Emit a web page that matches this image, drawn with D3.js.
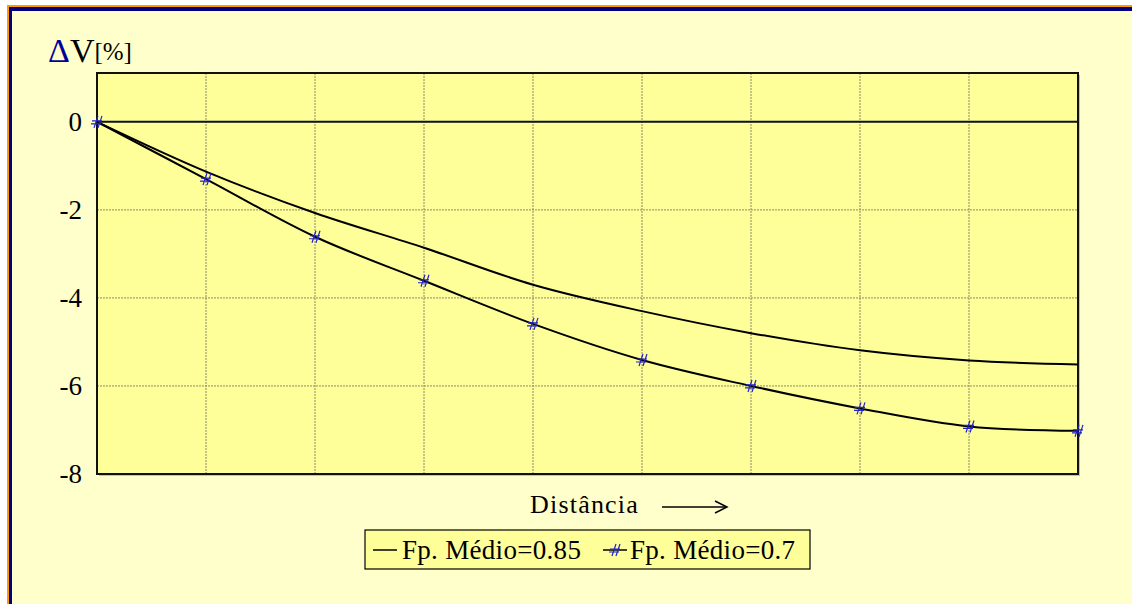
<!DOCTYPE html>
<html>
<head>
<meta charset="utf-8">
<script src="https://cdn.jsdelivr.net/npm/d3@7"></script>
<style>
  html, body { margin: 0; padding: 0; background: #fff; }
  svg { display: block; }
</style>
</head>
<body>
<svg id="chart"></svg>
<script>
// distance steps (x axis has no labels)
const distances = [0, 1, 2, 3, 4, 5, 6, 7, 8, 9];
const seriesNames = ['Fp. Médio=0.85', 'Fp. Médio=0.7'];
const dv085 = [0, -1.13, -2.07, -2.86, -3.70, -4.30, -4.80, -5.19, -5.42, -5.51];
const dv070 = [0, -1.30, -2.61, -3.61, -4.59, -5.41, -6.00, -6.51, -6.92, -7.02];
const yTicks = [0, -2, -4, -6, -8];

const W = 1132, H = 604;
const margin = { top: 73, right: 54, bottom: 130, left: 97 };
const serif = '"Liberation Serif", "Times New Roman", serif';

const svg = d3.select('#chart')
  .attr('width', W)
  .attr('height', H)
  .attr('font-family', serif);

// outer frame
svg.append('rect').attr('x', 0).attr('y', 0).attr('width', W).attr('height', H).attr('fill', '#fff');
svg.append('rect').attr('x', 7).attr('y', 5).attr('width', W - 7).attr('height', H - 5).attr('fill', '#ff9900');
svg.append('rect').attr('x', 9).attr('y', 7).attr('width', W - 9).attr('height', H - 7).attr('fill', '#000080');
svg.append('rect').attr('x', 12).attr('y', 11).attr('width', W - 12).attr('height', H - 11).attr('fill', '#ffffcc');

const x = d3.scaleLinear()
  .domain(d3.extent(distances))
  .range([margin.left, W - margin.right]);

const y = d3.scaleLinear()
  .domain([-8, 1.11])
  .range([H - margin.bottom, margin.top]);

const plotW = x.range()[1] - x.range()[0];
const plotH = y.range()[0] - y.range()[1];

// plot area + shadow
svg.append('rect')
  .attr('x', margin.left + 2).attr('y', margin.top + 2)
  .attr('width', plotW).attr('height', plotH)
  .attr('fill', '#c8c88a');
svg.append('rect')
  .attr('x', margin.left).attr('y', margin.top)
  .attr('width', plotW).attr('height', plotH)
  .attr('fill', '#ffff99');

// vertical gridlines
svg.append('g')
  .selectAll('line')
  .data(distances.slice(1, -1))
  .enter()
  .append('line')
  .attr('x1', d => x(d)).attr('x2', d => x(d))
  .attr('y1', margin.top).attr('y2', margin.top + plotH)
  .attr('stroke', '#8a8a6a')
  .attr('stroke-width', 1)
  .attr('stroke-dasharray', '2,1');

// horizontal gridlines
svg.append('g')
  .selectAll('line')
  .data(yTicks.filter(d => d !== 0 && d !== -8))
  .enter()
  .append('line')
  .attr('x1', margin.left).attr('x2', margin.left + plotW)
  .attr('y1', d => y(d)).attr('y2', d => y(d))
  .attr('stroke', '#8a8a6a')
  .attr('stroke-width', 1)
  .attr('stroke-dasharray', '2,1');

// zero line
svg.append('line')
  .attr('x1', margin.left).attr('x2', margin.left + plotW)
  .attr('y1', y(0)).attr('y2', y(0))
  .attr('stroke', '#111').attr('stroke-width', 2);

// plot border
svg.append('rect')
  .attr('x', margin.left).attr('y', margin.top)
  .attr('width', plotW).attr('height', plotH)
  .attr('fill', 'none')
  .attr('stroke', '#111').attr('stroke-width', 2);

// y axis labels
const yAxis = d3.axisLeft(y).tickValues(yTicks).tickSize(0).tickPadding(15)
  .tickFormat(d => String(d));
const gy = svg.append('g')
  .attr('transform', `translate(${margin.left},0)`)
  .call(yAxis)
  .attr('font-family', serif)
  .attr('font-size', 27);
gy.select('.domain').remove();
gy.selectAll('text').attr('fill', '#000');

// ΔV[%] title
const yt = svg.append('text')
  .attr('x', 48).attr('y', 62);
yt.append('tspan').attr('font-size', 34).attr('fill', '#000099').text('Δ');
yt.append('tspan').attr('font-size', 34).attr('fill', '#000').text('V');
yt.append('tspan').attr('font-size', 25).attr('fill', '#000').attr('dy', -2).text('[%]');

// lines
const line = d3.line()
  .x((d, i) => x(distances[i]))
  .y(d => y(d))
  .curve(d3.curveCatmullRom.alpha(0.5));

svg.append('path')
  .datum(dv085)
  .attr('d', line)
  .attr('fill', 'none')
  .attr('stroke', '#000').attr('stroke-width', 2);

svg.append('path')
  .datum(dv070)
  .attr('d', line)
  .attr('fill', 'none')
  .attr('stroke', '#000').attr('stroke-width', 2);

// '#' style marker
const markerPath = 'M-3,6L1,-6M1,6L5,-6M-5,-1L5,-1M-6,2L4,2';
svg.append('g')
  .selectAll('path')
  .data(dv070)
  .enter()
  .append('path')
  .attr('transform', (d, i) => `translate(${x(distances[i])},${y(d)})`)
  .attr('d', markerPath)
  .attr('fill', 'none')
  .attr('stroke', '#2222cc')
  .attr('stroke-width', 1.2);

// x axis title + arrow
svg.append('text')
  .attr('x', 530).attr('y', 513)
  .attr('font-size', 26)
  .attr('letter-spacing', 1.2)
  .attr('fill', '#000')
  .text('Distância');
svg.append('line')
  .attr('x1', 662).attr('x2', 726).attr('y1', 507).attr('y2', 507)
  .attr('stroke', '#000').attr('stroke-width', 1.5);
svg.append('path')
  .attr('d', 'M715,501L727,507L715,513')
  .attr('fill', 'none').attr('stroke', '#000').attr('stroke-width', 1.5);

// legend
const legend = svg.append('g');
legend.append('rect')
  .attr('x', 365).attr('y', 530).attr('width', 445).attr('height', 39)
  .attr('fill', '#ffff99').attr('stroke', '#000').attr('stroke-width', 1.2);

const legendItems = [
  { name: seriesNames[0], x0: 373, tx: 402, marker: false },
  { name: seriesNames[1], x0: 603, tx: 630, marker: true }
];
legendItems.forEach(it => {
  legend.append('line')
    .attr('x1', it.x0).attr('x2', it.x0 + 24)
    .attr('y1', 550).attr('y2', 550)
    .attr('stroke', '#000').attr('stroke-width', 1.5);
  if (it.marker) {
    legend.append('path')
      .attr('transform', `translate(${it.x0 + 12},550)`)
      .attr('d', markerPath)
      .attr('fill', 'none').attr('stroke', '#2222cc').attr('stroke-width', 1.2);
  }
  legend.append('text')
    .attr('x', it.tx).attr('y', 559)
    .attr('font-size', 27)
    .attr('letter-spacing', 0.3)
    .attr('fill', '#000')
    .text(it.name);
});
</script>
</body>
</html>
